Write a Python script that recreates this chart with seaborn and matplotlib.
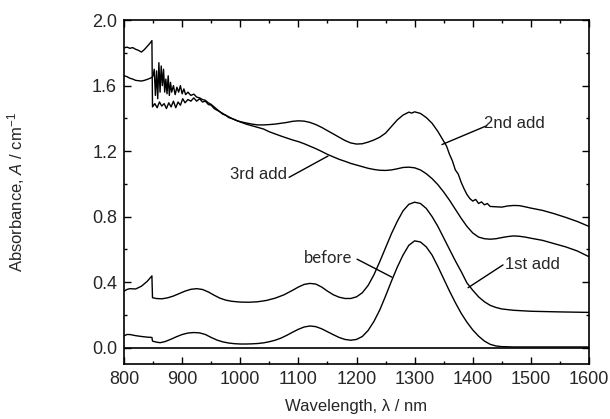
import matplotlib
matplotlib.use("Agg")
import matplotlib.pyplot as plt
import seaborn as sns
import pandas as pd
from matplotlib.ticker import MultipleLocator

# ---------------- data ----------------
wl_before = [800, 805, 810, 820, 830, 840, 848, 849, 855, 862, 870, 880, 890, 900, 910, 920, 930, 940, 950, 960,
             970, 980, 990, 1000, 1010, 1020, 1030, 1040, 1050, 1060, 1070, 1080, 1090, 1100, 1110, 1120, 1130,
             1140, 1150, 1160, 1170, 1180, 1190, 1200, 1210, 1220, 1230, 1240, 1250, 1260, 1270, 1280, 1290, 1300,
             1310, 1320, 1330, 1340, 1350, 1360, 1370, 1380, 1390, 1400, 1410, 1420, 1430, 1440, 1450, 1470, 1500,
             1550, 1600]
abs_before = [0.072, 0.080, 0.080, 0.073, 0.068, 0.064, 0.062, 0.040, 0.034, 0.030, 0.036, 0.050, 0.066, 0.080,
              0.089, 0.092, 0.090, 0.080, 0.062, 0.046, 0.035, 0.028, 0.024, 0.022, 0.022, 0.023, 0.025, 0.029,
              0.036, 0.045, 0.058, 0.075, 0.094, 0.112, 0.126, 0.132, 0.128, 0.115, 0.097, 0.079, 0.062, 0.050,
              0.045, 0.050, 0.068, 0.105, 0.160, 0.230, 0.315, 0.405, 0.490, 0.565, 0.625, 0.652, 0.645, 0.615,
              0.565, 0.495, 0.420, 0.345, 0.275, 0.210, 0.155, 0.108, 0.070, 0.040, 0.020, 0.010, 0.006, 0.004,
              0.004, 0.004, 0.004]

wl_1st = [800, 805, 810, 820, 830, 840, 848, 849, 855, 865, 875, 885, 895, 905, 915, 925, 935, 945, 955, 965, 975,
          985, 1000, 1015, 1030, 1045, 1060, 1075, 1090, 1100, 1110, 1120, 1130, 1140, 1150, 1160, 1170, 1180, 1190,
          1200, 1210, 1220, 1230, 1240, 1250, 1260, 1270, 1280, 1290, 1300, 1310, 1320, 1330, 1340, 1350, 1360,
          1370, 1380, 1390, 1400, 1410, 1420, 1430, 1440, 1450, 1470, 1500, 1550, 1600]
abs_1st = [0.345, 0.355, 0.360, 0.358, 0.375, 0.405, 0.438, 0.305, 0.300, 0.298, 0.304, 0.315, 0.330, 0.345, 0.356,
           0.360, 0.355, 0.340, 0.320, 0.302, 0.290, 0.283, 0.278, 0.277, 0.280, 0.288, 0.302, 0.322, 0.350, 0.370,
           0.386, 0.392, 0.388, 0.370, 0.345, 0.323, 0.308, 0.300, 0.300, 0.310, 0.335, 0.380, 0.445, 0.525, 0.610,
           0.695, 0.770, 0.835, 0.875, 0.888, 0.880, 0.850, 0.800, 0.740, 0.670, 0.600, 0.530, 0.465, 0.395, 0.350,
           0.310, 0.280, 0.258, 0.245, 0.236, 0.228, 0.222, 0.218, 0.215]

wl_2nd = [800, 805, 810, 815, 820, 825, 830, 835, 840, 845, 848, 849, 853, 857, 861, 865, 869, 873, 877, 881, 885,
          889, 893, 897, 901, 905, 910, 915, 920, 925, 930, 935, 940, 945, 950, 955, 960, 965, 970, 975, 980, 985,
          990, 995, 1000, 1010, 1020, 1030, 1040, 1050, 1060, 1070, 1080, 1090, 1100, 1110, 1120, 1130, 1140, 1150,
          1160, 1170, 1180, 1190, 1200, 1210, 1220, 1230, 1240, 1250, 1260, 1270, 1280, 1290, 1295, 1300, 1310,
          1320, 1330, 1340, 1350, 1355, 1360, 1365, 1370, 1375, 1380, 1385, 1390, 1395, 1400, 1405, 1410, 1415,
          1420, 1425, 1430, 1440, 1450, 1460, 1470, 1480, 1490, 1500, 1520, 1540, 1560, 1580, 1600]
abs_2nd = [1.830, 1.835, 1.828, 1.832, 1.822, 1.815, 1.805, 1.820, 1.840, 1.860, 1.875, 1.470, 1.490, 1.465, 1.500,
           1.475, 1.490, 1.460, 1.495, 1.470, 1.505, 1.465, 1.500, 1.480, 1.520, 1.495, 1.515, 1.505, 1.525, 1.505,
           1.520, 1.500, 1.505, 1.485, 1.480, 1.460, 1.450, 1.440, 1.425, 1.420, 1.405, 1.400, 1.392, 1.385, 1.380,
           1.372, 1.365, 1.360, 1.360, 1.362, 1.365, 1.370, 1.375, 1.382, 1.385, 1.383, 1.375, 1.362, 1.345, 1.325,
           1.305, 1.285, 1.265, 1.250, 1.243, 1.245, 1.255, 1.268, 1.285, 1.310, 1.350, 1.390, 1.420, 1.438, 1.432,
           1.440, 1.430, 1.405, 1.370, 1.320, 1.260, 1.230, 1.180, 1.140, 1.085, 1.060, 1.010, 0.970, 0.935, 0.910,
           0.895, 0.905, 0.880, 0.890, 0.872, 0.880, 0.862, 0.860, 0.858, 0.865, 0.868, 0.867, 0.860, 0.852, 0.838,
           0.818, 0.795, 0.770, 0.740]

wl_3rd = [800, 805, 810, 815, 820, 825, 830, 835, 840, 845, 848, 850, 852, 854, 856, 858, 860, 862, 864, 866, 868,
          870, 872, 874, 876, 878, 880, 882, 885, 888, 891, 894, 897, 900, 903, 906, 910, 915, 920, 925, 930, 935,
          940, 945, 950, 955, 960, 965, 970, 975, 980, 985, 990, 995, 1000, 1010, 1020, 1030, 1040, 1050, 1060,
          1070, 1080, 1090, 1100, 1110, 1120, 1130, 1140, 1150, 1160, 1170, 1180, 1190, 1200, 1210, 1220, 1230,
          1240, 1250, 1260, 1270, 1280, 1290, 1300, 1310, 1320, 1330, 1340, 1350, 1360, 1370, 1380, 1390, 1400,
          1410, 1420, 1430, 1440, 1450, 1460, 1470, 1480, 1490, 1500, 1520, 1540, 1560, 1580, 1600]
abs_3rd = [1.660, 1.655, 1.645, 1.640, 1.632, 1.630, 1.628, 1.632, 1.638, 1.645, 1.650, 1.660, 1.700, 1.540, 1.690,
           1.520, 1.740, 1.560, 1.720, 1.600, 1.700, 1.560, 1.640, 1.550, 1.660, 1.540, 1.620, 1.560, 1.600, 1.545,
           1.590, 1.560, 1.600, 1.550, 1.580, 1.545, 1.560, 1.540, 1.548, 1.530, 1.525, 1.515, 1.510, 1.495, 1.485,
           1.470, 1.455, 1.440, 1.430, 1.418, 1.410, 1.400, 1.393, 1.385, 1.378, 1.365, 1.355, 1.345, 1.335, 1.318,
           1.305, 1.292, 1.280, 1.268, 1.258, 1.245, 1.230, 1.215, 1.198, 1.180, 1.165, 1.150, 1.138, 1.125, 1.115,
           1.105, 1.095, 1.088, 1.083, 1.082, 1.085, 1.092, 1.100, 1.102, 1.098, 1.085, 1.062, 1.032, 0.995, 0.950,
           0.900, 0.845, 0.790, 0.740, 0.700, 0.675, 0.665, 0.662, 0.665, 0.672, 0.678, 0.682, 0.680, 0.675, 0.668,
           0.655, 0.635, 0.615, 0.590, 0.555]

series_names = ["before", "1st add", "2nd add", "3rd add"]
x_ticks = [800, 900, 1000, 1100, 1200, 1300, 1400, 1500, 1600]
y_ticks = [0.0, 0.4, 0.8, 1.2, 1.6, 2.0]

# ---------------- plot ----------------
sns.set_style("ticks")
plt.rcParams['font.family'] = ['Liberation Sans', 'DejaVu Sans']
plt.rcParams['mathtext.fontset'] = 'custom'
plt.rcParams['mathtext.it'] = 'Liberation Sans:italic'
plt.rcParams['mathtext.rm'] = 'Liberation Sans'

fig = plt.figure(figsize=(6.10, 4.19), dpi=100)
ax = fig.add_axes([0.2033, 0.1313, 0.7623, 0.8207])

frames = []
for name, wl, ab in zip(series_names, [wl_before, wl_1st, wl_2nd, wl_3rd],
                        [abs_before, abs_1st, abs_2nd, abs_3rd]):
    frames.append(pd.DataFrame({"wl": wl, "A": ab, "series": name}))
df = pd.concat(frames, ignore_index=True)

sns.lineplot(data=df, x="wl", y="A", units="series", estimator=None, sort=False,
             color="black", linewidth=1.0, ax=ax, legend=False)

ax.axhline(0.0, color="black", linewidth=1.2)

ax.set_xlim(800, 1600)
ax.set_ylim(-0.1, 2.0)
ax.set_xticks(x_ticks)
ax.set_yticks(y_ticks)
ax.set_yticklabels([f"{v:.1f}" for v in y_ticks])
ax.xaxis.set_minor_locator(MultipleLocator(50))
ax.yaxis.set_minor_locator(MultipleLocator(0.2))
ax.tick_params(which="both", direction="in", top=True, right=True, width=1.0, color="black")
ax.tick_params(which="major", length=5, labelsize=13, pad=5)
ax.tick_params(which="minor", length=2.5)
for sp in ax.spines.values():
    sp.set_linewidth(1.2)
    sp.set_color("black")

ax.set_xlabel("Wavelength, λ / nm", fontsize=12, labelpad=8)
ax.set_ylabel("Absorbance, $\\it{A}$ / cm$^{-1}$", fontsize=12, labelpad=47)

# annotations
lk = dict(arrowstyle="-", color="black", lw=1.0, shrinkA=0, shrinkB=0)

ax.annotate("", xy=(1347, 1.24), xytext=(1424, 1.355), arrowprops=lk)
ax.text(1420, 1.37, "2nd add", fontsize=12, ha="left", va="center")

ax.annotate("", xy=(1151, 1.17), xytext=(1084, 1.04), arrowprops=lk)
ax.text(1080, 1.055, "3rd add", fontsize=12, ha="right", va="center")

ax.annotate("", xy=(1261, 0.43), xytext=(1201, 0.54), arrowprops=lk)
ax.text(1192, 0.545, "before", fontsize=12, ha="right", va="center", family=["Lato", "DejaVu Sans"])

ax.annotate("", xy=(1392, 0.366), xytext=(1452, 0.505), arrowprops=lk)
ax.text(1456, 0.505, "1st add", fontsize=12, ha="left", va="center")

fig.savefig("out.png", dpi=100)
